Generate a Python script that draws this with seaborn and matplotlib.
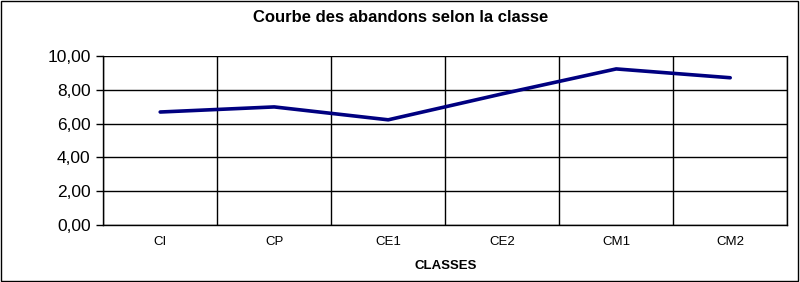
import matplotlib
matplotlib.use("Agg")
import matplotlib.pyplot as plt
import matplotlib.patches as mpatches
from matplotlib.ticker import FixedLocator, FuncFormatter
import seaborn as sns
import pandas as pd

classes = ["CI", "CP", "CE1", "CE2", "CM1", "CM2"]
abandons = [6.68, 6.98, 6.22, 7.75, 9.22, 8.70]
y_ticks = [0, 2, 4, 6, 8, 10]

sns.set_style("white")
plt.rcParams["font.family"] = ["Liberation Sans", "DejaVu Sans"]
plt.rcParams["text.color"] = "black"
plt.rcParams["axes.labelcolor"] = "black"
plt.rcParams["xtick.color"] = "black"
plt.rcParams["ytick.color"] = "black"

df = pd.DataFrame({"classe": classes, "abandons": abandons})

fig = plt.figure(figsize=(8.0, 2.82), dpi=100)
ax = fig.add_axes([0.129, 0.201, 0.855, 0.6015])

sns.lineplot(data=df, x="classe", y="abandons", ax=ax, color="#000080",
             linewidth=2.6, sort=False)

ax.set_xlim(-0.5, len(classes) - 0.5)
ax.set_ylim(0, 10)
ax.set_yticks(y_ticks)
ax.yaxis.set_major_formatter(FuncFormatter(lambda v, p: f"{v:.2f}".replace(".", ",")))
ax.set_xticks(range(len(classes)))
ax.set_xticklabels(classes, fontsize=9.5)
ax.xaxis.set_minor_locator(FixedLocator([i - 0.5 for i in range(len(classes) + 1)]))

ax.tick_params(axis="x", which="major", length=0, pad=8)
ax.tick_params(axis="x", which="minor", length=3, width=1, color="black", direction="out")
ax.tick_params(axis="y", which="major", length=5, width=1, color="black",
               direction="out", labelsize=12.5, pad=4)
ax.tick_params(left=True, bottom=True)

ax.grid(axis="y", which="major", color="black", linewidth=1)
ax.grid(axis="x", which="minor", color="black", linewidth=1)
ax.grid(axis="x", which="major", visible=False)

for side in ["left", "bottom", "right"]:
    ax.spines[side].set_visible(True)
    ax.spines[side].set_color("black")
    ax.spines[side].set_linewidth(1)
ax.spines["top"].set_visible(False)

ax.set_ylabel("")
ax.set_xlabel("CLASSES", fontsize=9.5, fontweight="bold", labelpad=8)
fig.text(0.501, 1 - 18 / 282, "Courbe des abandons selon la classe",
         ha="center", va="center", fontsize=12, fontweight="bold")

fig.patches.append(mpatches.Rectangle((0.001, 0.002), 0.996, 0.995,
                                      transform=fig.transFigure, fill=False,
                                      edgecolor="black", linewidth=1))

fig.savefig("out.png", dpi=100)
